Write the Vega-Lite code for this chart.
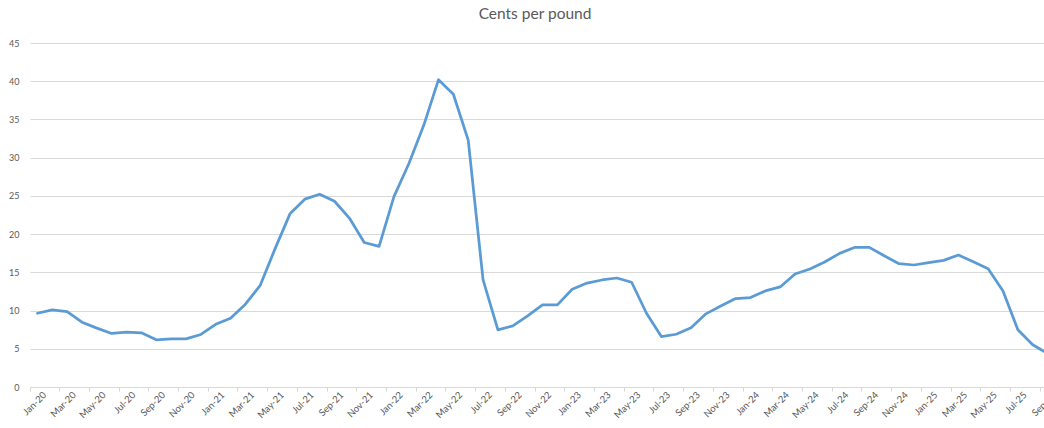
{
  "$schema": "https://vega.github.io/schema/vega-lite/v6.json",
  "autosize": "none",
  "width": 1025,
  "height": 344,
  "padding": {"left": 30, "top": 43, "right": 0, "bottom": 41},
  "background": "white",
  "config": {
    "view": {"stroke": null},
    "font": "Lato"
  },
  "title": {
    "text": "Cents per  pound",
    "font": "Lato",
    "fontSize": 15.5,
    "fontWeight": "normal",
    "color": "#595959",
    "anchor": "middle",
    "offset": 17,
    "dx": -7.5
  },
  "data": {
    "values": [
      {"month": "Jan-20", "cents": 9.65},
      {"month": "Feb-20", "cents": 10.09},
      {"month": "Mar-20", "cents": 9.87},
      {"month": "Apr-20", "cents": 8.48},
      {"month": "May-20", "cents": 7.7},
      {"month": "Jun-20", "cents": 7.0},
      {"month": "Jul-20", "cents": 7.17},
      {"month": "Aug-20", "cents": 7.09},
      {"month": "Sep-20", "cents": 6.17},
      {"month": "Oct-20", "cents": 6.3},
      {"month": "Nov-20", "cents": 6.3},
      {"month": "Dec-20", "cents": 6.87},
      {"month": "Jan-21", "cents": 8.2},
      {"month": "Feb-21", "cents": 9.0},
      {"month": "Mar-21", "cents": 10.83},
      {"month": "Apr-21", "cents": 13.3},
      {"month": "May-21", "cents": 18.1},
      {"month": "Jun-21", "cents": 22.65},
      {"month": "Jul-21", "cents": 24.57},
      {"month": "Aug-21", "cents": 25.22},
      {"month": "Sep-21", "cents": 24.3},
      {"month": "Oct-21", "cents": 22.1},
      {"month": "Nov-21", "cents": 18.9},
      {"month": "Dec-21", "cents": 18.4},
      {"month": "Jan-22", "cents": 24.9},
      {"month": "Feb-22", "cents": 29.2},
      {"month": "Mar-22", "cents": 34.2},
      {"month": "Apr-22", "cents": 40.2},
      {"month": "May-22", "cents": 38.3},
      {"month": "Jun-22", "cents": 32.3},
      {"month": "Jul-22", "cents": 14.0},
      {"month": "Aug-22", "cents": 7.48},
      {"month": "Sep-22", "cents": 8.0},
      {"month": "Oct-22", "cents": 9.3},
      {"month": "Nov-22", "cents": 10.74},
      {"month": "Dec-22", "cents": 10.74},
      {"month": "Jan-23", "cents": 12.78},
      {"month": "Feb-23", "cents": 13.6},
      {"month": "Mar-23", "cents": 14.0},
      {"month": "Apr-23", "cents": 14.26},
      {"month": "May-23", "cents": 13.7},
      {"month": "Jun-23", "cents": 9.65},
      {"month": "Jul-23", "cents": 6.6},
      {"month": "Aug-23", "cents": 6.9},
      {"month": "Sep-23", "cents": 7.74},
      {"month": "Oct-23", "cents": 9.57},
      {"month": "Nov-23", "cents": 10.6},
      {"month": "Dec-23", "cents": 11.57},
      {"month": "Jan-24", "cents": 11.7},
      {"month": "Feb-24", "cents": 12.57},
      {"month": "Mar-24", "cents": 13.09},
      {"month": "Apr-24", "cents": 14.78},
      {"month": "May-24", "cents": 15.43},
      {"month": "Jun-24", "cents": 16.35},
      {"month": "Jul-24", "cents": 17.48},
      {"month": "Aug-24", "cents": 18.26},
      {"month": "Sep-24", "cents": 18.26},
      {"month": "Oct-24", "cents": 17.17},
      {"month": "Nov-24", "cents": 16.13},
      {"month": "Dec-24", "cents": 15.96},
      {"month": "Jan-25", "cents": 16.26},
      {"month": "Feb-25", "cents": 16.57},
      {"month": "Mar-25", "cents": 17.26},
      {"month": "Apr-25", "cents": 16.39},
      {"month": "May-25", "cents": 15.48},
      {"month": "Jun-25", "cents": 12.57},
      {"month": "Jul-25", "cents": 7.48},
      {"month": "Aug-25", "cents": 5.52},
      {"month": "Sep-25", "cents": 4.4}
    ]
  },
  "mark": {"type": "line", "color": "#5b9bd5", "strokeWidth": 2.75, "strokeJoin": "round", "strokeCap": "round"},
  "encoding": {
    "x": {
      "field": "month",
      "type": "ordinal",
      "sort": null,
      "scale": {"type": "band", "paddingInner": 0, "paddingOuter": 0},
      "axis": {
        "title": null,
        "values": ["Jan-20","Mar-20","May-20","Jul-20","Sep-20","Nov-20","Jan-21","Mar-21","May-21","Jul-21","Sep-21","Nov-21","Jan-22","Mar-22","May-22","Jul-22","Sep-22","Nov-22","Jan-23","Mar-23","May-23","Jul-23","Sep-23","Nov-23","Jan-24","Mar-24","May-24","Jul-24","Sep-24","Nov-24","Jan-25","Mar-25","May-25","Jul-25","Sep-25"],
        "bandPosition": 0,
        "labelOffset": 7.4,
        "labelAngle": -45,
        "labelAlign": "right",
        "labelBaseline": "middle",
        "labelFont": "Lato",
        "labelFontSize": 9.5,
        "labelColor": "#595959",
        "labelPadding": 2,
        "domainColor": "#d9d9d9",
        "domainWidth": 1,
        "tickColor": "#d9d9d9",
        "tickSize": 4,
        "grid": false,
        "labelOverlap": false,
        "labelBound": false
      }
    },
    "y": {
      "field": "cents",
      "type": "quantitative",
      "scale": {"domain": [0, 45], "nice": false, "zero": true},
      "axis": {
        "title": null,
        "values": [0, 5, 10, 15, 20, 25, 30, 35, 40, 45],
        "domain": false,
        "ticks": false,
        "grid": true,
        "gridColor": "#d9d9d9",
        "gridWidth": 1,
        "labelFont": "Lato",
        "labelFontSize": 9,
        "labelColor": "#595959",
        "labelPadding": 11
      }
    }
  }
}
